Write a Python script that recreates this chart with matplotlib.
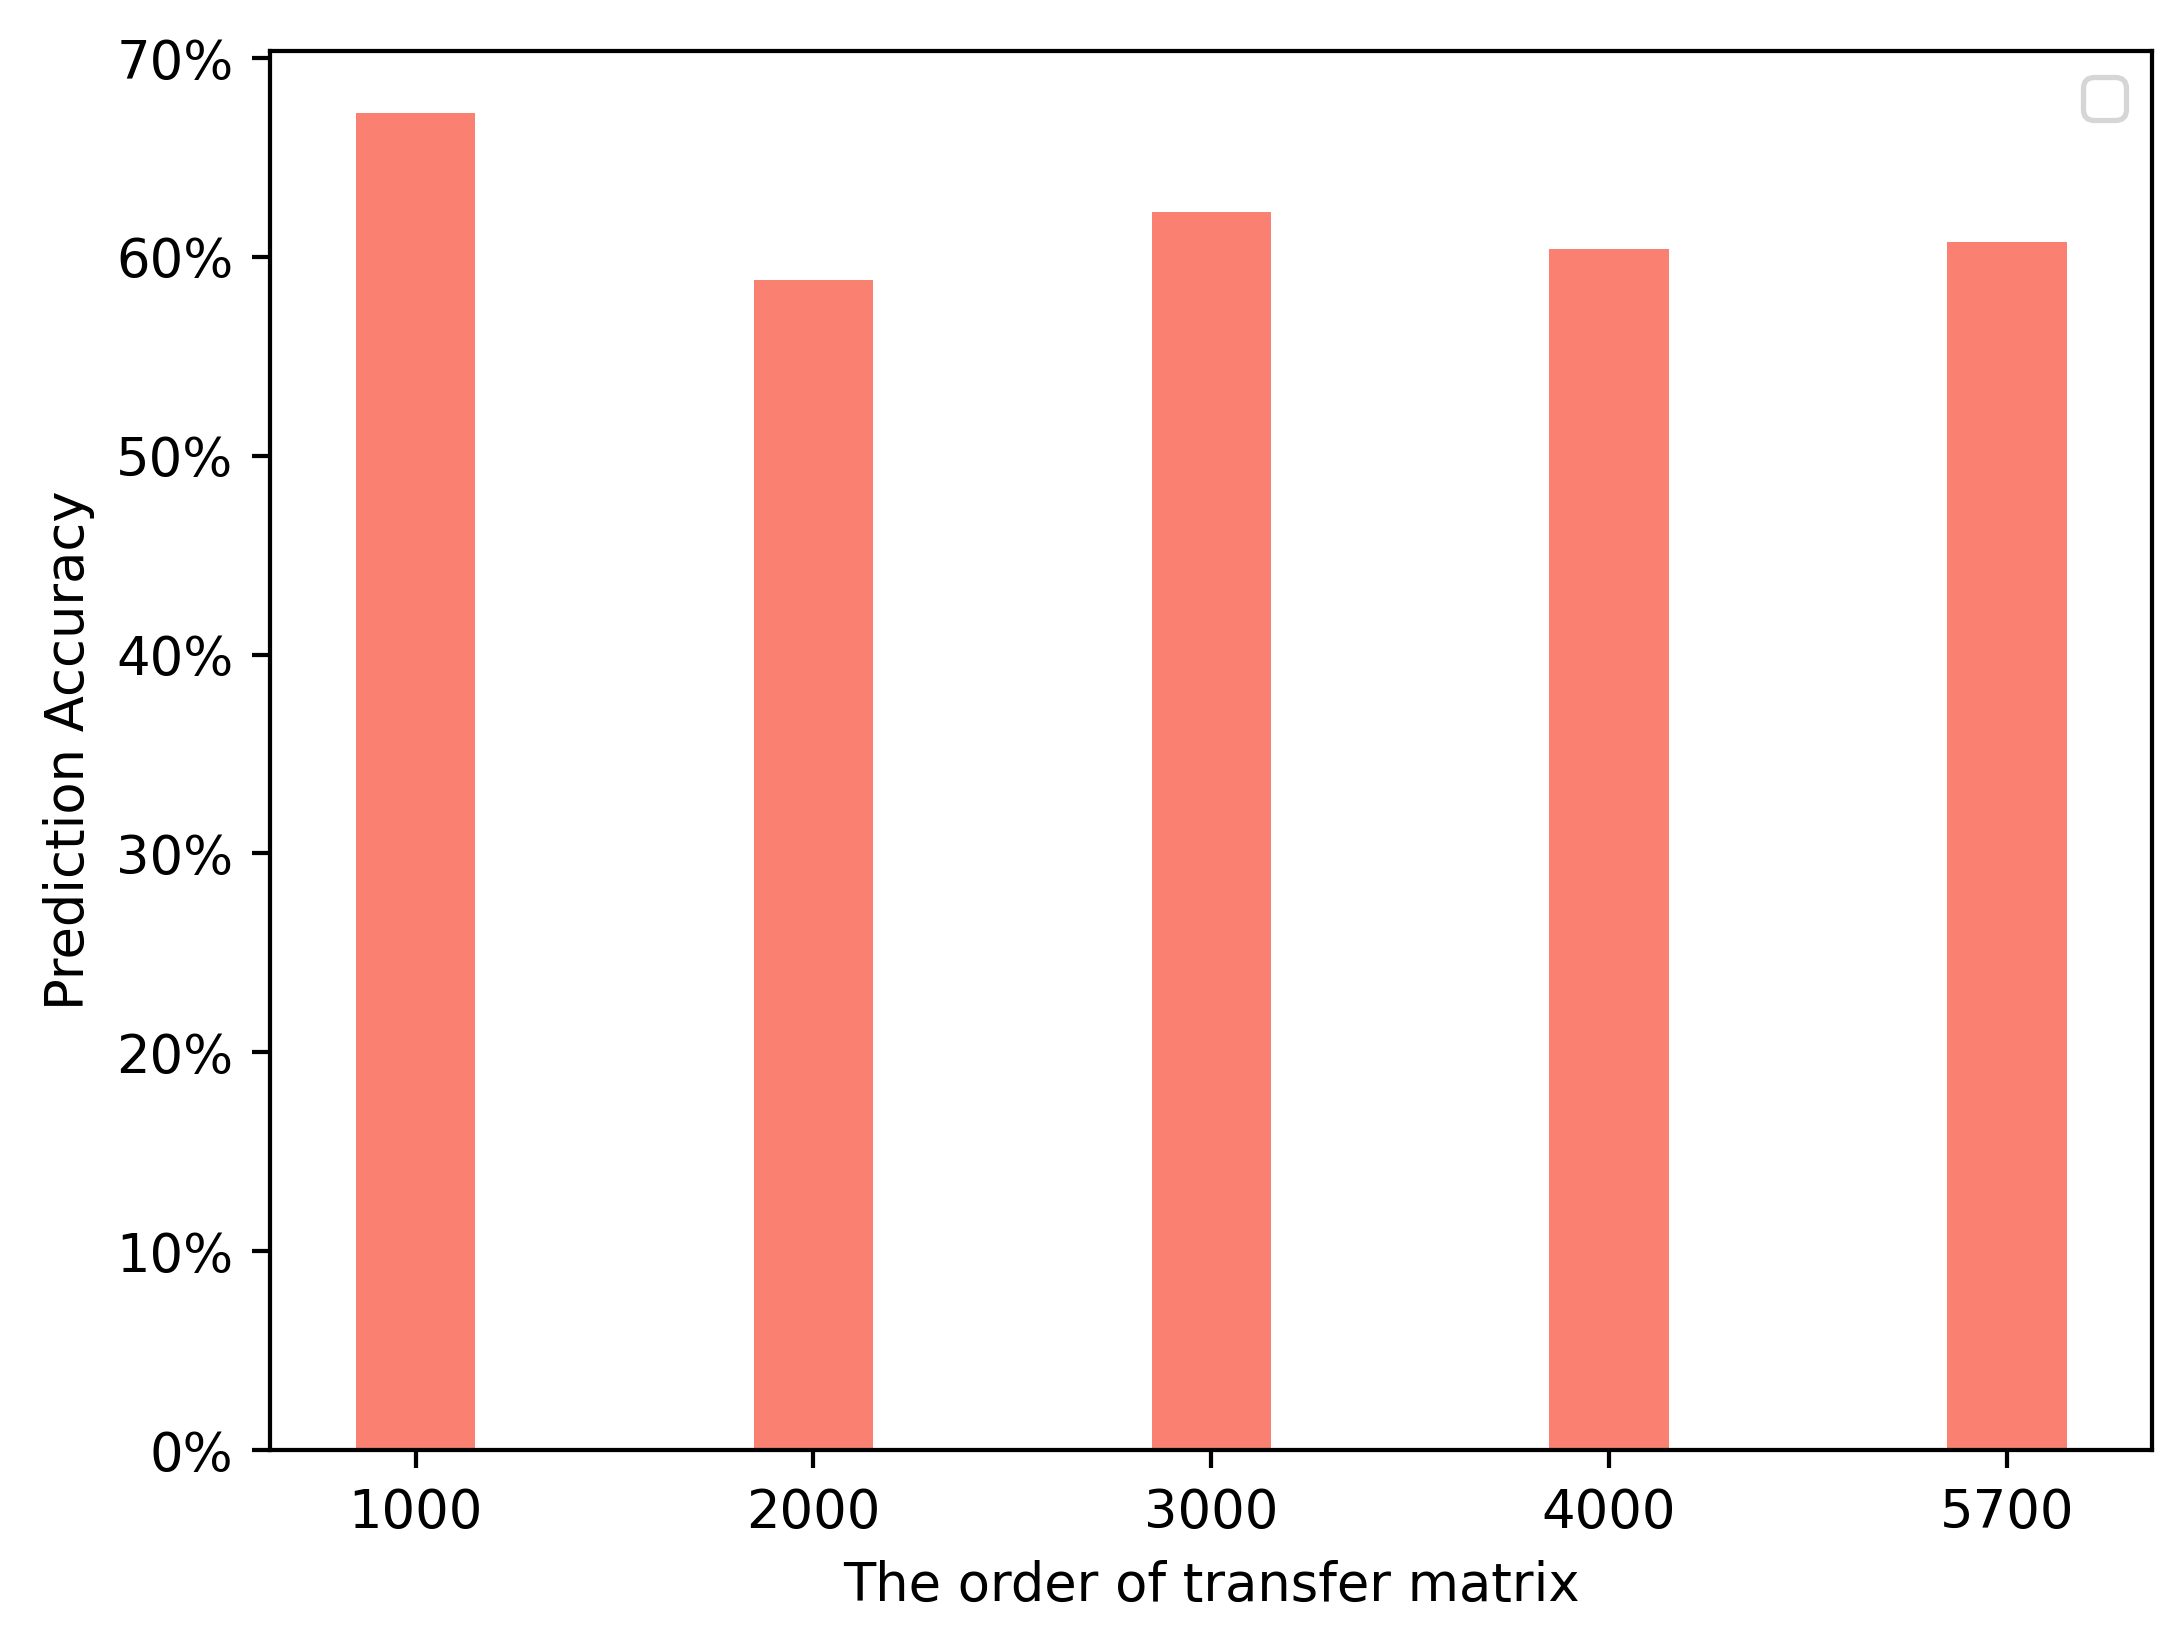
import matplotlib
matplotlib.use("Agg")
import matplotlib.pyplot as plt
from matplotlib.ticker import PercentFormatter

# data
orders = ["1000", "2000", "3000", "4000", "5700"]
accuracy = [0.6722, 0.5885, 0.6227, 0.6038, 0.6074]

fig = plt.figure(figsize=(2174 / 380, 1637 / 380), dpi=380)
ax = fig.add_axes([0.1244, 0.1142, 0.8655, 0.8546])

ax.bar(orders, accuracy, width=0.3, color="salmon")
ax.set_ylim(0, 0.7035)
ax.yaxis.set_major_formatter(PercentFormatter(xmax=1, decimals=0))

ax.set_xlabel("The order of transfer matrix")
ax.set_ylabel("Prediction Accuracy")
# empty legend box, as in the original
ax.legend(handles=[], loc="upper right")

fig.savefig("out.png", dpi=380)
